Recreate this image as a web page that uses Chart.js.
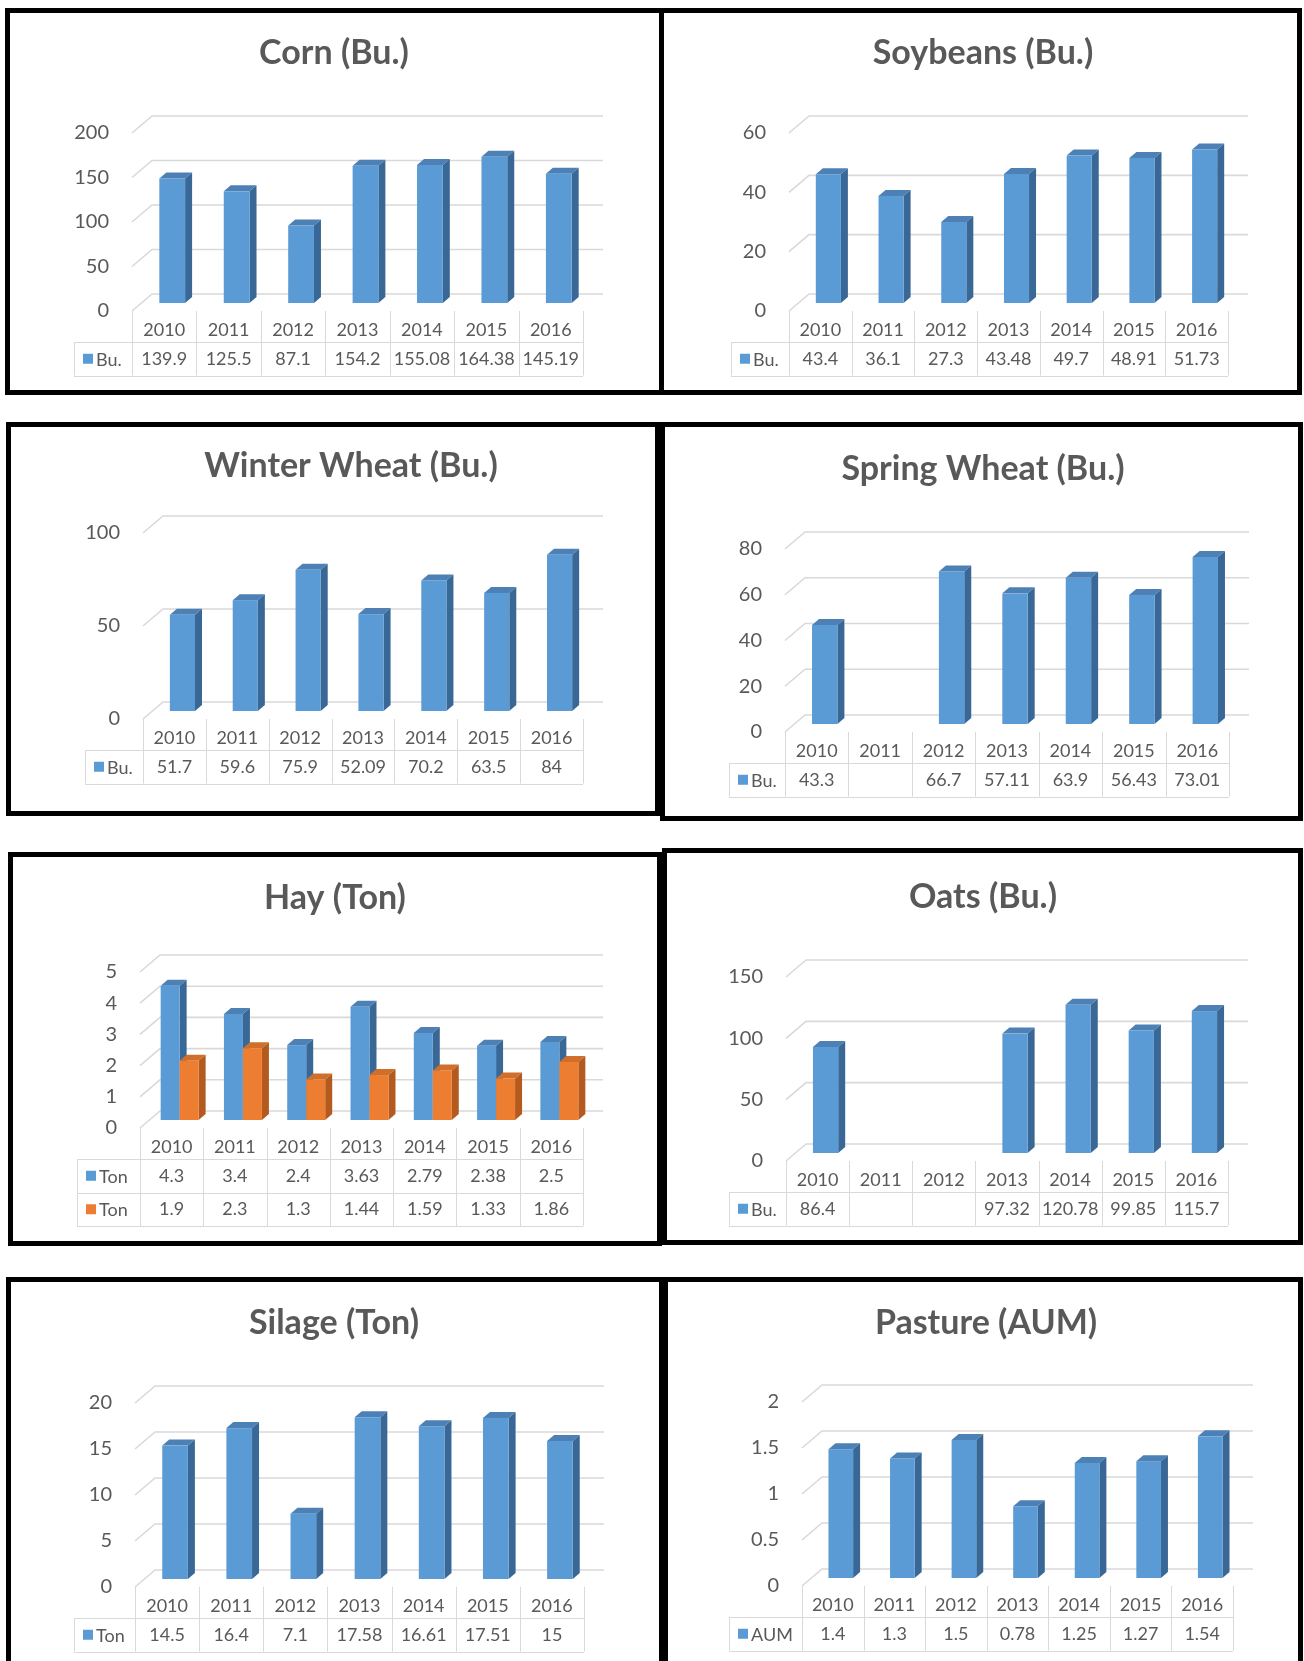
<!DOCTYPE html>
<html>
<head>
<meta charset="utf-8">
<title>Crop yields 2010-2016</title>
<script src="https://cdn.jsdelivr.net/npm/chart.js@4.4.1/dist/chart.umd.min.js"></script>
<style>
  body { margin: 0; background: #fff; }
  #page { position: relative; width: 1304px; height: 1661px; overflow: hidden; }
  .painel { position: absolute; }
  .painel canvas { position: absolute; left: 0; top: 0; }
  .moldura { position: absolute; left: 0; top: 0; right: 0; bottom: 0; border: 5px solid #000; box-sizing: border-box; pointer-events: none; }
</style>
</head>
<body>
<div id="page"></div>
<script>
// ---- data ----
const years = ['2010', '2011', '2012', '2013', '2014', '2015', '2016'];

const cornBu = [139.9, 125.5, 87.1, 154.2, 155.08, 164.38, 145.19];
const soybeansBu = [43.4, 36.1, 27.3, 43.48, 49.7, 48.91, 51.73];
const winterWheatBu = [51.7, 59.6, 75.9, 52.09, 70.2, 63.5, 84];
const springWheatBu = [43.3, null, 66.7, 57.11, 63.9, 56.43, 73.01];
const hayTonA = [4.3, 3.4, 2.4, 3.63, 2.79, 2.38, 2.5];
const hayTonB = [1.9, 2.3, 1.3, 1.44, 1.59, 1.33, 1.86];
const oatsBu = [86.4, null, null, 97.32, 120.78, 99.85, 115.7];
const silageTon = [14.5, 16.4, 7.1, 17.58, 16.61, 17.51, 15];
const pastureAUM = [1.4, 1.3, 1.5, 0.78, 1.25, 1.27, 1.54];

const cornTicks = [0, 50, 100, 150, 200];
const soybeansTicks = [0, 20, 40, 60];
const winterWheatTicks = [0, 50, 100];
const springWheatTicks = [0, 20, 40, 60, 80];
const hayTicks = [0, 1, 2, 3, 4, 5];
const oatsTicks = [0, 50, 100, 150];
const silageTicks = [0, 5, 10, 15, 20];
const pastureTicks = [0, 0.5, 1, 1.5, 2];

// ---- look ----
const colors = {
    blue: { front: '#5b9bd5', side: '#3a6896', top: '#4d81b6' },
    orange: { front: '#ed7d31', side: '#b45a1e', top: '#cf6f2b' }
};
const textColor = '#595959';
const lineColor = '#d9d9d9';
const wallDepth = { dx: 20, dy: -17 };   // back wall offset of the 3d floor
const barShift = { dx: 8, dy: -8 };      // bars stand half way into the floor
const barDepth = { dx: 7, dy: -6 };

// page positions of each panel (box = x, y, w, h) and of its plot
const panels = [
    { title: 'Corn (Bu.)', ticks: cornTicks, series: [['Bu.', cornBu, 'blue']],
      box: [5, 8, 659, 387], cols: [132, 583], legendLeft: 74, plotTop: 133, floor: 311, titleAt: [334, 53] },
    { title: 'Soybeans (Bu.)', ticks: soybeansTicks, series: [['Bu.', soybeansBu, 'blue']],
      box: [659, 8, 643, 387], cols: [789, 1228], legendLeft: 731, plotTop: 133, floor: 311, titleAt: [983, 53] },
    { title: 'Winter Wheat (Bu.)', ticks: winterWheatTicks, series: [['Bu.', winterWheatBu, 'blue']],
      box: [6, 422, 654, 394], cols: [143, 583], legendLeft: 85, plotTop: 533, floor: 719, titleAt: [351, 466] },
    { title: 'Spring Wheat (Bu.)', ticks: springWheatTicks, series: [['Bu.', springWheatBu, 'blue']],
      box: [660, 422, 643, 399], cols: [785, 1229], legendLeft: 729, plotTop: 549, floor: 732, titleAt: [983, 469] },
    { title: 'Hay (Ton)', ticks: hayTicks, series: [['Ton', hayTonA, 'blue'], ['Ton', hayTonB, 'orange']],
      box: [8, 852, 654, 394], cols: [140, 583], legendLeft: 77, plotTop: 972, floor: 1128, titleAt: [335, 898] },
    { title: 'Oats (Bu.)', ticks: oatsTicks, series: [['Bu.', oatsBu, 'blue']],
      box: [662, 848, 641, 397], cols: [786, 1228], legendLeft: 729, plotTop: 977, floor: 1161, titleAt: [983, 897] },
    { title: 'Silage (Ton)', ticks: silageTicks, series: [['Ton', silageTon, 'blue']],
      box: [6, 1277, 658, 400], cols: [135, 584], legendLeft: 74, plotTop: 1403, floor: 1587, titleAt: [334, 1323] },
    { title: 'Pasture (AUM)', ticks: pastureTicks, series: [['AUM', pastureAUM, 'blue']],
      box: [663, 1277, 640, 400], cols: [802, 1233], legendLeft: 729, plotTop: 1402, floor: 1586, titleAt: [986, 1323] }
];

function poly(ctx, pts) {
    ctx.beginPath();
    ctx.moveTo(pts[0][0], pts[0][1]);
    pts.slice(1).forEach(p => ctx.lineTo(p[0], p[1]));
    ctx.closePath();
    ctx.fill();
}

function line(ctx, x1, y1, x2, y2) {
    ctx.beginPath();
    ctx.moveTo(x1, y1);
    ctx.lineTo(x2, y2);
    ctx.stroke();
}

function drawBar(ctx, left, top, w, h, c) {
    const r = left + w, b = top + h, dx = barDepth.dx, dy = barDepth.dy;
    ctx.fillStyle = c.top;
    poly(ctx, [[left, top], [left + dx, top + dy], [r + dx, top + dy], [r, top]]);
    ctx.fillStyle = c.side;
    poly(ctx, [[r, top], [r + dx, top + dy], [r + dx, b + dy], [r, b]]);
    ctx.fillStyle = c.front;
    ctx.fillRect(left, top, w, h);
}

// gridlines on the back wall, with the slanted piece on the floor side
const walls = {
    id: 'walls',
    beforeDatasetsDraw(chart) {
        const { ctx, chartArea: a, scales: { y } } = chart;
        ctx.save();
        ctx.strokeStyle = lineColor;
        ctx.lineWidth = 1.6;
        y.ticks.forEach(t => {
            const py = y.getPixelForValue(t.value);
            ctx.beginPath();
            ctx.moveTo(a.left, py);
            ctx.lineTo(a.left + wallDepth.dx, py + wallDepth.dy);
            ctx.lineTo(a.right + wallDepth.dx, py + wallDepth.dy);
            ctx.stroke();
        });
        ctx.restore();
    }
};

// 3d columns built from the bar elements Chart.js laid out
const bars3d = {
    id: 'bars3d',
    beforeDatasetsDraw(chart) {
        const ctx = chart.ctx;
        ctx.save();
        chart.data.labels.forEach((lab, i) => {
            chart.data.datasets.forEach((ds, d) => {
                if (ds.data[i] == null) return;
                const el = chart.getDatasetMeta(d).data[i];
                const { x, y, base, width } = el.getProps(['x', 'y', 'base', 'width'], true);
                drawBar(ctx, x - width / 2 + barShift.dx, y + barShift.dy, width, base - y, colors[ds.tone]);
            });
        });
        ctx.restore();
    },
    beforeDatasetDraw() {
        return false; // the columns are already drawn above
    }
};

// data table under the plot + the panel title
const dataTable = {
    id: 'dataTable',
    afterDraw(chart, args, opts) {
        const { ctx, chartArea: a, scales: { x } } = chart;
        const n = chart.data.labels.length;
        const colW = (a.right - a.left) / n;
        const floor = a.bottom;
        const rowTop = floor + 31, rowH = 33.5;
        const sets = chart.data.datasets;
        const bottom = rowTop + rowH * sets.length;
        ctx.save();
        ctx.strokeStyle = lineColor;
        ctx.lineWidth = 1;
        for (let i = 0; i <= n; i++) {
            const px = Math.round(a.left + colW * i) + 0.5;
            line(ctx, px, floor, px, bottom);
        }
        line(ctx, opts.legendLeft + 0.5, rowTop, opts.legendLeft + 0.5, bottom);
        for (let k = 0; k <= sets.length; k++) {
            const py = Math.round(rowTop + rowH * k) + 0.5;
            line(ctx, opts.legendLeft, py, a.right, py);
        }

        ctx.fillStyle = textColor;
        ctx.font = '18px Lato';
        ctx.textAlign = 'center';
        ctx.textBaseline = 'middle';
        chart.data.labels.forEach((lab, i) => {
            const cx = x.getPixelForValue(i);
            ctx.fillText(lab, cx, floor + 19);
            sets.forEach((ds, k) => {
                if (ds.data[i] != null) ctx.fillText(String(ds.data[i]), cx, rowTop + rowH * k + rowH / 2);
            });
        });

        ctx.textAlign = 'left';
        sets.forEach((ds, k) => {
            const cy = rowTop + rowH * k + rowH / 2;
            ctx.fillStyle = colors[ds.tone].front;
            ctx.fillRect(opts.legendLeft + 9, cy - 5, 10, 10);
            ctx.fillStyle = textColor;
            ctx.fillText(ds.label, opts.legendLeft + 22, cy + 1);
        });

        ctx.font = 'bold 34px Lato';
        ctx.textAlign = 'center';
        ctx.fillText(opts.title, opts.titleX, opts.titleY);
        ctx.restore();
    }
};

function montarPainel(p) {
    const [bx, by, bw, bh] = p.box;
    const div = document.createElement('div');
    div.className = 'painel';
    div.style.left = bx + 'px';
    div.style.top = by + 'px';
    div.style.width = bw + 'px';
    div.style.height = bh + 'px';
    const canvas = document.createElement('canvas');
    canvas.width = bw;
    canvas.height = bh;
    div.appendChild(canvas);
    const frame = document.createElement('div');
    frame.className = 'moldura';
    div.appendChild(frame);
    document.getElementById('page').appendChild(div);

    const colLeft = p.cols[0] - bx;
    const single = p.series.length === 1;

    new Chart(canvas.getContext('2d'), {
        type: 'bar',
        data: {
            labels: years,
            datasets: p.series.map(([label, data, tone]) => ({
                label: label,
                data: data,
                tone: tone,
                backgroundColor: colors[tone].front,
                categoryPercentage: single ? 0.8 : 0.6,
                barPercentage: single ? 0.5 : 1
            }))
        },
        options: {
            responsive: false,
            animation: false,
            devicePixelRatio: 1,
            events: [],
            layout: {
                padding: { left: 0, top: p.plotTop - by, right: bx + bw - p.cols[1], bottom: by + bh - p.floor }
            },
            scales: {
                x: { display: false },
                y: {
                    min: p.ticks[0],
                    max: p.ticks[p.ticks.length - 1],
                    ticks: {
                        stepSize: p.ticks[1] - p.ticks[0],
                        padding: 23,
                        color: textColor,
                        font: { family: 'Lato', size: 20 },
                        callback: v => String(Math.round(v * 100) / 100)
                    },
                    grid: { display: false, drawTicks: false, tickLength: 0 },
                    border: { display: false },
                    afterFit: s => { s.width = colLeft; }
                }
            },
            plugins: {
                legend: { display: false },
                tooltip: { enabled: false },
                dataTable: {
                    legendLeft: p.legendLeft - bx,
                    title: p.title,
                    titleX: p.titleAt[0] - bx,
                    titleY: p.titleAt[1] - by
                }
            }
        },
        plugins: [walls, bars3d, dataTable]
    });
}

panels.forEach(montarPainel);
</script>
</body>
</html>
